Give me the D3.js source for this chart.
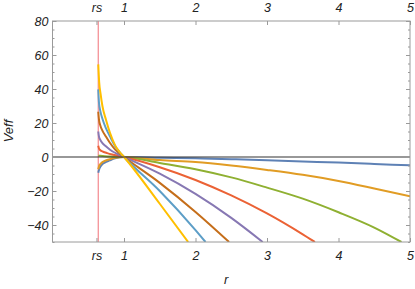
<!DOCTYPE html>
<html><head><meta charset="utf-8">
<script src="https://cdn.jsdelivr.net/npm/d3@7"></script>
<style>
html,body{margin:0;padding:0;background:#fff;}
svg text{font-family:"Liberation Sans",Arial,sans-serif;font-style:italic;fill:#222;}
</style></head>
<body><svg id="c" width="415" height="289"></svg>
<script>
// ---- data ----
const rs = 0.64;
const xTickValues = [0.615, 1, 2, 3, 4, 5];
const xTickLabels = ["rs", "1", "2", "3", "4", "5"];
const yTickValues = [-40, -20, 0, 20, 40, 60, 80];
const yTickLabels = ["\u221240", "\u221220", "0", "20", "40", "60", "80"];
const seriesColors = ["#5E81B5","#E19C24","#8FB032","#EB6235","#8778B3","#C56E1A","#5D9EC7","#FFBF00"];

const curveBlue = [[0.64,-9.2],[0.65,-7.6],[0.669,-5.8],[0.69,-4.6],[0.73,-3.3],[0.8,-2.0],[0.874,-0.8],[0.942,-0.2],[1,0],[1.5,-0.4],[2,-0.8],[2.5,-1.3],[3,-1.9],[3.5,-2.6],[4,-3.3],[4.5,-4.1],[5,-4.9]];
const curveOrange = [[0.64,-7.2],[0.65,-5.5],[0.669,-4.2],[0.69,-3.3],[0.73,-2.3],[0.8,-1.3],[0.874,-0.5],[0.942,-0.1],[1,0],[1.5,-1.8],[2,-2.9],[2.5,-5],[3,-7.6],[3.5,-10.5],[4,-14.1],[4.5,-18.5],[5,-23.1]];
const curveGreen = [[0.64,0.8],[0.669,0.7],[0.73,0.5],[0.805,0.3],[0.9,0.15],[1,0],[1.5,-3.5],[2,-7.2],[2.5,-12],[3,-18],[3.5,-24.5],[4,-32.5],[4.5,-41.5],[4.88,-50]];
const curveRed = [[0.64,6.6],[0.65,5],[0.669,4],[0.708,3.1],[0.765,2.3],[0.835,1.5],[0.92,0.7],[1,0],[1.5,-6],[2,-13.5],[2.5,-22.6],[3,-33.2],[3.5,-45.5],[3.67,-50]];
const curvePurple = [[0.64,15],[0.65,12],[0.669,10],[0.698,8.2],[0.747,6.3],[0.805,4.3],[0.874,2.5],[0.942,1.1],[1,0],[1.5,-9.8],[2,-21.7],[2.5,-35.8],[2.94,-50]];
const curveBrown = [[0.64,26.6],[0.65,22],[0.669,18.5],[0.698,15.5],[0.747,12],[0.8,8.5],[0.874,4.5],[0.942,1.9],[1,0],[1.5,-15.2],[2,-32.3],[2.47,-50]];
const curveLightBlue = [[0.64,39.8],[0.65,32],[0.669,27],[0.698,22.5],[0.747,17],[0.805,12],[0.874,6.5],[0.942,2.7],[1,0],[1.5,-20],[2,-43],[2.14,-50]];
const curveYellow = [[0.64,54.5],[0.653,44],[0.673,37],[0.698,30],[0.747,22],[0.805,14],[0.874,7],[0.942,2.8],[1,0],[1.5,-27.5],[1.897,-50]];
const seriesList = [curveBlue, curveOrange, curveGreen, curveRed, curvePurple, curveBrown, curveLightBlue, curveYellow];

// ---- layout ----
const L = 52.5, R = 410, T = 21, B = 242;
const svg = d3.select("#c");
const x = d3.scaleLinear().domain([0, 5]).range([L, R]);
const y = d3.scaleLinear().domain([-50, 80]).range([B, T]);

svg.append("clipPath").attr("id","clip").append("rect")
  .attr("x", L).attr("y", T).attr("width", R - L).attr("height", B - T);

// rs line
svg.append("line").attr("x1", x(rs)).attr("x2", x(rs)).attr("y1", T).attr("y2", B)
  .attr("stroke", "#F4898E").attr("stroke-width", 1.2);

const line = d3.line().x(d => x(d[0])).y(d => y(d[1])).curve(d3.curveMonotoneX);
const g = svg.append("g").attr("clip-path", "url(#clip)");
seriesList.forEach((s, i) => {
  g.append("path").attr("d", line(s)).attr("fill", "none")
    .attr("stroke", seriesColors[i]).attr("stroke-width", 2);
});
// zero line
svg.append("line").attr("x1", L).attr("x2", R).attr("y1", y(0)).attr("y2", y(0))
  .attr("stroke", "#333").attr("stroke-width", 1.1);

// frame
svg.append("rect").attr("x", L).attr("y", T).attr("width", R - L).attr("height", B - T)
  .attr("fill", "none").attr("stroke", "#9a9a9a").attr("stroke-width", 1);

// axes
const fmtX = (d, i) => xTickLabels[i];
const fmtY = (d, i) => yTickLabels[i];
const minorY = d3.range(-50, 81, 5).filter(v => yTickValues.indexOf(v) < 0);

function styleAxis(sel){
  sel.select(".domain").remove();
  sel.selectAll(".tick line").attr("stroke", "#9a9a9a");
  sel.selectAll("text").style("font-size", "12.5px").attr("fill", "#222");
}
// bottom
svg.append("g").attr("transform", `translate(0,${B})`)
  .call(d3.axisBottom(x).tickValues(xTickValues).tickFormat(fmtX).tickSizeInner(-4).tickSizeOuter(0).tickPadding(9))
  .call(styleAxis);
// top
svg.append("g").attr("transform", `translate(0,${T})`)
  .call(d3.axisTop(x).tickValues(xTickValues).tickFormat(fmtX).tickSizeInner(-4).tickSizeOuter(0).tickPadding(9))
  .call(styleAxis);
// left
svg.append("g").attr("transform", `translate(${L},0)`)
  .call(d3.axisLeft(y).tickValues(yTickValues).tickFormat(fmtY).tickSizeInner(-4).tickSizeOuter(0).tickPadding(4))
  .call(styleAxis);
svg.append("g").attr("transform", `translate(${L},0)`)
  .call(d3.axisLeft(y).tickValues(minorY).tickFormat("").tickSizeInner(-2).tickSizeOuter(0))
  .call(styleAxis);
// right
svg.append("g").attr("transform", `translate(${R},0)`)
  .call(d3.axisRight(y).tickValues(yTickValues).tickFormat("").tickSizeInner(-4).tickSizeOuter(0))
  .call(styleAxis);
svg.append("g").attr("transform", `translate(${R},0)`)
  .call(d3.axisRight(y).tickValues(minorY).tickFormat("").tickSizeInner(-2).tickSizeOuter(0))
  .call(styleAxis);

// axis titles
svg.append("text").attr("x", x(2.43)).attr("y", 284).attr("text-anchor", "middle")
  .style("font-size", "13px").text("r");
svg.append("text").attr("transform", `translate(13,131) rotate(-90)`).attr("text-anchor", "middle")
  .style("font-size", "13px").text("Veff");
</script></body></html>
